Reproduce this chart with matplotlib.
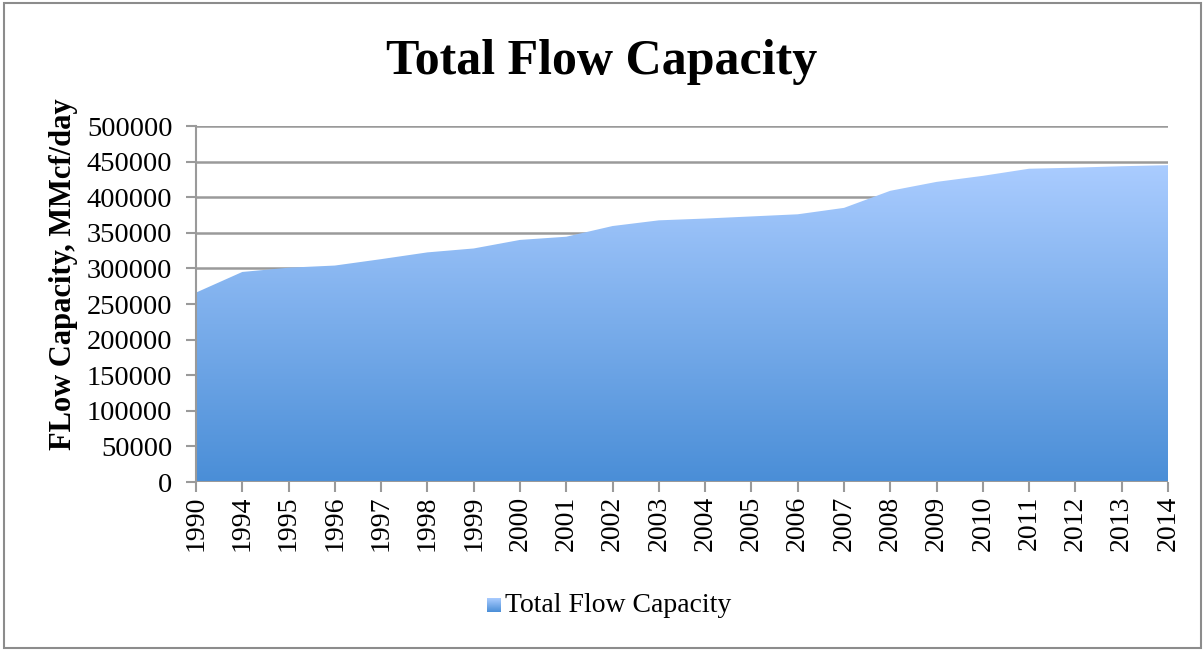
import matplotlib
matplotlib.use('Agg')
import matplotlib.pyplot as plt
import numpy as np
from matplotlib.colors import LinearSegmentedColormap
from matplotlib.patches import Polygon, Rectangle

years = ['1990', '1994', '1995', '1996', '1997', '1998', '1999', '2000', '2001', '2002',
         '2003', '2004', '2005', '2006', '2007', '2008', '2009', '2010', '2011', '2012',
         '2013', '2014']
capacity = [266000, 295000, 301000, 304000, 313000, 322500, 328000, 340000, 344500, 359500,
            367500, 370000, 373000, 376000, 385000, 409000, 421500, 430000, 440000, 441500,
            443500, 445000]
y_ticks = [0, 50000, 100000, 150000, 200000, 250000, 300000, 350000, 400000, 450000, 500000]

plt.rcParams['font.family'] = ['Liberation Serif', 'DejaVu Serif']
grid_col = '#9a9a9a'
fill_cmap = LinearSegmentedColormap.from_list('flow', ['#4a8ed7', '#aaccff'])

fig = plt.figure(figsize=(12.03, 6.5), dpi=100)
fig.patches.append(Rectangle((0.003, 0.003), 0.995, 0.993, transform=fig.transFigure,
                             fill=False, edgecolor='#8c8c8c', linewidth=1.5))

ax = fig.add_axes([196 / 1203, 1 - 482 / 650, 972 / 1203, 356 / 650])
x = np.arange(len(years))
ymax = y_ticks[-1]

# gradient area: vertical gradient image clipped to the area polygon
verts = [(x[0], 0)] + list(zip(x, capacity)) + [(x[-1], 0)]
area = Polygon(verts, closed=True, facecolor='none', edgecolor='none')
ax.add_patch(area)
grad = np.linspace(0, 1, 256).reshape(-1, 1)
img = ax.imshow(grad, cmap=fill_cmap, aspect='auto', origin='lower',
                extent=[x[0], x[-1], 0, max(capacity)], zorder=2,
                vmin=0, vmax=1)
img.set_clip_path(area)

ax.set_xlim(x[0], x[-1])
ax.set_ylim(0, ymax)
ax.set_yticks(y_ticks)
ax.set_yticklabels([str(v) for v in y_ticks])
ax.set_xticks(x)
ax.set_xticklabels(years, rotation=90)
ax.grid(axis='y', color=grid_col, linewidth=1.8, zorder=1)
ax.set_axisbelow(True)
for side in ('top', 'right', 'bottom'):
    ax.spines[side].set_visible(False)
ax.spines['left'].set_color(grid_col)
ax.spines['left'].set_linewidth(1.5)
ax.tick_params(axis='both', direction='out', length=7, width=1.5, color=grid_col,
               labelsize=20)
ax.tick_params(axis='y', pad=10, labelsize=20.5)
ax.tick_params(axis='x', pad=3)
ax.axhline(0, color=grid_col, linewidth=1.5, zorder=3)

ax.set_ylabel('FLow Capacity, MMcf/day', fontsize=22, fontweight='bold')
ax.yaxis.set_label_coords(-0.121, 0.584)
fig.text(0.5, 1 - 62 / 650, 'Total Flow Capacity', ha='center', va='center',
         fontsize=36, fontweight='bold')

# legend: small gradient square plus label
lax = fig.add_axes([487 / 1203, 1 - 612 / 650, 14 / 1203, 14 / 650])
lax.imshow(grad, cmap=fill_cmap, aspect='auto', origin='lower')
lax.set_axis_off()
fig.text(505 / 1203, 1 - 606 / 650, 'Total Flow Capacity', ha='left', va='center',
         fontsize=20)

fig.savefig('out.png', dpi=100)
